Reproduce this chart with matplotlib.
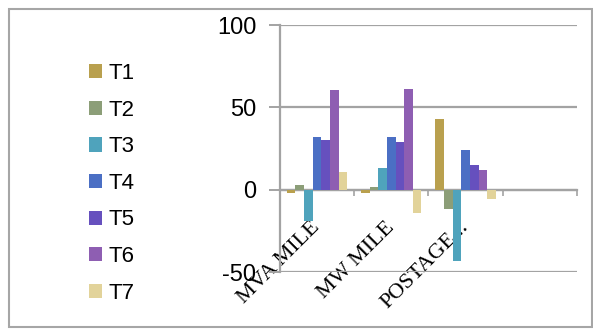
import numpy as np
import matplotlib.pyplot as plt
from matplotlib.patches import Rectangle

# categories on the x axis (4th slot is empty in the source chart)
categories = ["MVA MILE", "MW MILE", "POSTAGE...", ""]
series_names = ["T1", "T2", "T3", "T4", "T5", "T6", "T7"]

T1 = [-2, -2, 43, np.nan]
T2 = [3, 1.5, -11.5, np.nan]
T3 = [-19, 13, -43, np.nan]
T4 = [32, 32, 24, np.nan]
T5 = [30, 29, 15, np.nan]
T6 = [60.5, 61, 12, np.nan]
T7 = [11, -14, -5.5, np.nan]

yticks = [-50, 0, 50, 100]

colors = ["#B9A04E", "#8C9E78", "#4FA3BC", "#4B6FC4", "#6650BE", "#8E5EB2", "#E2D39A"]


def main():
    series = [T1, T2, T3, T4, T5, T6, T7]
    fig = plt.figure(figsize=(5.93, 3.29), dpi=100)
    ax = fig.add_axes([0.472, 0.173, 0.501, 0.751])

    x = np.arange(len(categories))
    bar_w = 0.116
    handles = []
    for i, (name, vals) in enumerate(zip(series_names, series)):
        off = (i - 3) * bar_w
        b = ax.bar(x + off, vals, width=bar_w, color=colors[i], label=name, zorder=3)
        handles.append(b)

    ax.set_xlim(-0.5, len(categories) - 0.5)
    ax.set_ylim(-50, 100)

    grid_c = "#a3a3a3"
    ax.set_yticks(yticks)
    ax.set_yticklabels([str(v) for v in yticks], fontfamily="Liberation Sans", fontsize=17)
    ax.yaxis.grid(True, color=grid_c, lw=1.6, zorder=0)
    ax.tick_params(axis="y", length=8, width=1.4, color=grid_c, pad=9)

    # category axis sits on zero
    for s in ["top", "right"]:
        ax.spines[s].set_visible(False)
    ax.spines["left"].set_color(grid_c)
    ax.spines["left"].set_linewidth(1.6)
    ax.spines["bottom"].set_position(("data", 0))
    ax.spines["bottom"].set_color(grid_c)
    ax.spines["bottom"].set_linewidth(1.6)

    ax.set_xticks(x)
    ax.set_xticklabels(categories, fontfamily="Liberation Serif", fontsize=16,
                       rotation=45, ha="right", va="center", rotation_mode="anchor")
    ax.tick_params(axis="x", which="major", length=0, pad=25)
    ax.set_xticks(x + 0.5, minor=True)
    ax.tick_params(axis="x", which="minor", length=4, width=1.2, color=grid_c)

    ax.legend(handles=handles, loc="upper left", bbox_to_anchor=(0.135, 0.835),
              bbox_transform=fig.transFigure, frameon=False,
              prop={"family": "Liberation Sans", "size": 16},
              handlelength=0.6, handleheight=0.6, handletextpad=0.3,
              labelspacing=0.70, borderaxespad=0)

    # outer chart frame
    fig.patches.append(Rectangle((0.015, 0.006), 0.983, 0.967, transform=fig.transFigure,
                                 fill=False, edgecolor="#a6a6a6", lw=1.5))

    fig.savefig("out.png", dpi=100)


if __name__ == "__main__":
    main()
